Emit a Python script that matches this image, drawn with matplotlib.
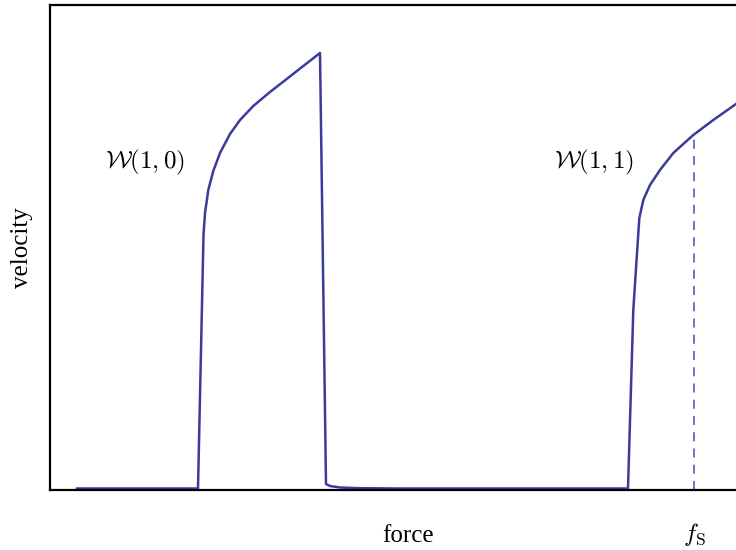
import matplotlib
matplotlib.use("Agg")
import matplotlib.pyplot as plt

plt.rcParams["mathtext.fontset"] = "cm"
plt.rcParams["font.family"] = ["Liberation Serif", "DejaVu Serif"]

# velocity response vs applied force (arbitrary units)
force_pinned_low = [0.27, 1.48]
vel_pinned_low = [0.015, 0.015]

force_branch_10 = [1.48, 1.535, 1.55, 1.583, 1.633, 1.70, 1.80, 1.90, 2.033, 2.20, 2.367, 2.533, 2.70]
vel_branch_10 = [0.015, 2.55, 2.77, 3.00, 3.19, 3.37, 3.56, 3.70, 3.84, 3.98, 4.11, 4.24, 4.37]

force_pinned_mid = [2.70, 2.76, 2.80, 2.90, 3.10, 3.50, 4.50, 5.78]
vel_pinned_mid = [4.37, 0.06, 0.04, 0.025, 0.018, 0.015, 0.015, 0.015]

force_branch_11 = [5.78, 5.833, 5.893, 5.933, 6.00, 6.10, 6.233, 6.433, 6.633, 6.86]
vel_branch_11 = [0.015, 1.80, 2.717, 2.90, 3.05, 3.20, 3.37, 3.55, 3.70, 3.86]

f_s = 6.44
v_at_fs = 3.55

line_color = "#3b3b9b"
dash_color = "#6464cc"

fig = plt.figure(figsize=(7.36, 5.5), dpi=100)
ax = fig.add_axes([50 / 736, 60 / 550, 716 / 736, 485 / 550])

force = force_pinned_low + force_branch_10[1:] + force_pinned_mid[1:] + force_branch_11[1:]
vel = vel_pinned_low + vel_branch_10[1:] + vel_pinned_mid[1:] + vel_branch_11[1:]
ax.plot(force, vel, color=line_color, lw=1.8, solid_joinstyle="round", clip_on=False)

ax.plot([f_s, f_s], [0, v_at_fs], color=dash_color, lw=1.3, ls=(0, (5, 4)))

ax.set_xlim(0, 7.16)
ax.set_ylim(0, 4.85)

ax.text(0.95, 3.28, r"$\mathcal{W}(1,0)$", fontsize=18, ha="center", va="center")
ax.text(5.44, 3.28, r"$\mathcal{W}(1,1)$", fontsize=18, ha="center", va="center")

ax.set_xticks([f_s])
ax.set_xticklabels([r"$f_{\rm S}$"], fontsize=18)
ax.tick_params(axis="x", length=0, pad=22)
ax.set_yticks([])

ax.set_xlabel("force", fontsize=18)
ax.xaxis.set_label_coords(0.5, -(536 - 490) / 485)
ax.xaxis.label.set_va("center")
ax.set_ylabel("velocity", fontsize=18, labelpad=12)

for s in ax.spines.values():
    s.set_linewidth(1.6)

fig.savefig("out.png", dpi=100)
